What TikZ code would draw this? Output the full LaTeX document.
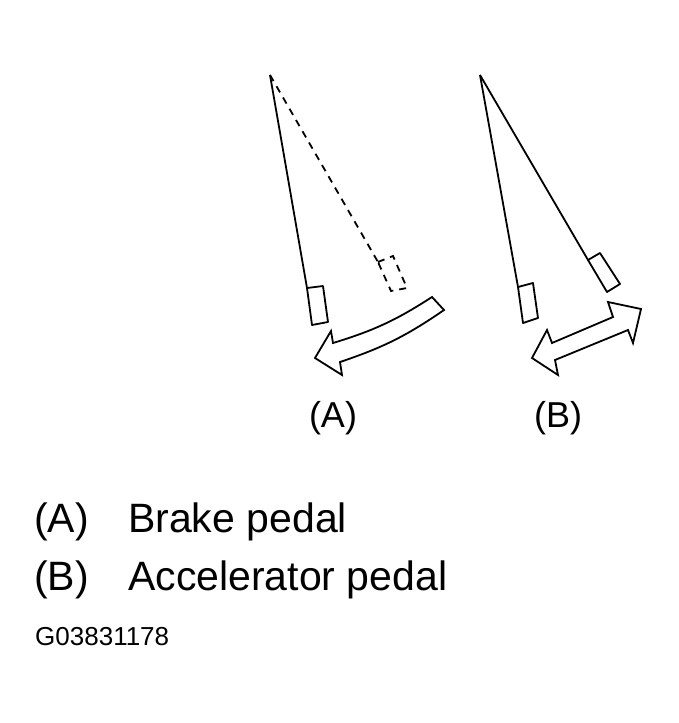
\documentclass[tikz,border=0pt]{standalone}
\usepackage{fontspec}
\setmainfont{Liberation Sans}
\tikzset{
  pedal/.style={line width=1.8pt,line join=round},
  ghost/.style={line width=1.8pt,dash pattern=on 7pt off 6pt},
  motion/.style={line width=1.8pt,fill=white,line join=miter},
  tag/.style={font=\fontsize{36}{40}\selectfont,inner sep=0pt},
  key/.style={font=\fontsize{41}{46}\selectfont,inner sep=0pt,anchor=west}
}
\begin{document}
\begin{tikzpicture}[x=1pt,y=-1pt]
  \useasboundingbox (0,0) rectangle (679,723);

  % Brake pedal
  \coordinate (pivA) at (270,75);
  \draw[pedal] (pivA) -- (307,288);
  \draw[pedal] (307,288) -- (323,286) -- (328,322) -- (312,325) -- cycle;
  \draw[ghost] (pivA) -- (378,262);
  \draw[ghost] (378,262) -- (393,256) -- (407,288) -- (391,291) -- cycle;
  \draw[motion] (432,297) -- (444,310) to[bend left=8] (340,362)
    -- (342,375) -- (315,358) -- (331,331) -- (333,343) to[bend right=8] cycle;

  % Accelerator pedal
  \coordinate (pivB) at (480,75);
  \draw[pedal] (pivB) -- (518,287);
  \draw[pedal] (518,287) -- (533,283) -- (538,318) -- (523,323) -- cycle;
  \draw[pedal] (pivB) -- (588,260);
  \draw[pedal] (588,260) -- (600,253) -- (620,284) -- (607,292) -- cycle;
  \draw[motion] (532,358) -- (547,330) -- (552,343) -- (613,317) -- (608,302)
    -- (641,309) -- (633,343) -- (628,330) -- (555,360) -- (558,375) -- cycle;

  % Labels
  \node[tag] (labA) at (333,418) {(A)};
  \node[tag] (labB) at (558,418) {(B)};
  \node[key] (keyA) at (34,522) {(A)};
  \node[key] (txtA) at (128,522) {Brake pedal};
  \node[key] (keyB) at (34,580) {(B)};
  \node[key] (txtB) at (128,580) {Accelerator pedal};
  \node[key,font=\fontsize{26}{30}\selectfont] (code) at (35,637) {G03831178};
\end{tikzpicture}
\end{document}
